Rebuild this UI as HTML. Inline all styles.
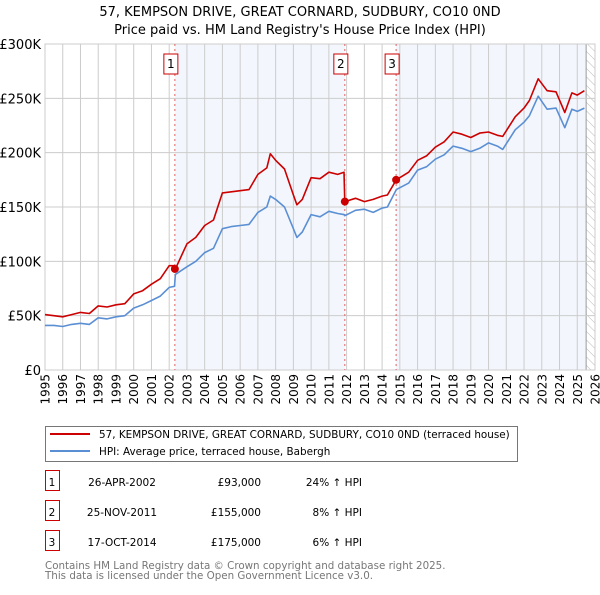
<!DOCTYPE html>
<html><head><meta charset="utf-8"><style>
body{margin:0;background:#fff;font-family:"Liberation Sans","DejaVu Sans",sans-serif;}
svg text{font-family:"DejaVu Sans","Liberation Sans",sans-serif;}
</style></head><body>
<svg id="c" width="600" height="590" xmlns="http://www.w3.org/2000/svg">
<defs><pattern id="hatch" width="6" height="6" patternUnits="userSpaceOnUse" patternTransform="rotate(-45)"><line x1="0" y1="0" x2="0" y2="6" stroke="#bbb" stroke-width="1"/></pattern></defs>
<text x="300" y="16" text-anchor="middle" font-size="13" fill="#000">57, KEMPSON DRIVE, GREAT CORNARD, SUDBURY, CO10 0ND</text>
<text x="300" y="34" text-anchor="middle" font-size="13" fill="#000">Price paid vs. HM Land Registry's House Price Index (HPI)</text>
<g id="plot"></g>
<g>
<rect x="45.5" y="426.5" width="472" height="35" fill="#fff" stroke="#777"/>
<line x1="50" y1="434" x2="90" y2="434" stroke="#cc0000" stroke-width="2"/>
<text x="99" y="438" font-size="10.4">57, KEMPSON DRIVE, GREAT CORNARD, SUDBURY, CO10 0ND (terraced house)</text>
<line x1="50" y1="451" x2="90" y2="451" stroke="#5b8fd4" stroke-width="2"/>
<text x="99" y="455" font-size="10.4">HPI: Average price, terraced house, Babergh</text>
</g>
<g id="tbl" font-size="10.5"></g>
<text x="45" y="569" font-size="10.3" fill="#777">Contains HM Land Registry data © Crown copyright and database right 2025.</text>
<text x="45" y="579" font-size="10.3" fill="#777">This data is licensed under the Open Government Licence v3.0.</text>
</svg>
<script>
const years=[1995,1995.5,1996,1996.5,1997,1997.5,1998,1998.5,1999,1999.5,2000,2000.5,2001,2001.5,2002,2002.3,2002.35,2003,2003.5,2004,2004.5,2005,2005.5,2006,2006.5,2007,2007.5,2007.7,2008,2008.5,2009,2009.2,2009.5,2010,2010.5,2011,2011.5,2011.85,2011.9,2012.5,2013,2013.5,2014,2014.3,2014.8,2015.5,2016,2016.5,2017,2017.5,2018,2018.5,2019,2019.5,2020,2020.5,2020.8,2021.5,2022,2022.3,2022.8,2023.3,2023.8,2024.3,2024.7,2025,2025.4];
const hpi=[41,41,40,42,43,42,48,47,49,50,57,60,64,68,76,77,88,95,100,108,112,130,132,133,134,145,150,160,157,150,130,122,127,143,141,146,144,143,142,147,148,145,149,150,166,172,184,187,194,198,206,204,201,204,209,206,203,221,228,234,252,240,241,223,240,238,241];
const red=[51,50,49,51,53,52,59,58,60,61,70,73,79,84,96,96,93,116,122,133,138,163,164,165,166,180,186,199,193,185,161,152,157,177,176,182,180,182,155,158,155,157,160,161,175,182,193,197,205,210,219,217,214,218,219,216,215,233,241,248,268,257,256,237,255,253,257];
const yTicks=[0,50,100,150,200,250,300];
const xYears=[1995,1996,1997,1998,1999,2000,2001,2002,2003,2004,2005,2006,2007,2008,2009,2010,2011,2012,2013,2014,2015,2016,2017,2018,2019,2020,2021,2022,2023,2024,2025,2026];
const saleYears=[2002.32,2011.9,2014.79];
const salePrices=[93,155,175];
const saleLabels=["1","2","3"];
const saleDates=["26-APR-2002","25-NOV-2011","17-OCT-2014"];
const salePriceText=["£93,000","£155,000","£175,000"];
const saleHpi=["24% ↑ HPI","8% ↑ HPI","6% ↑ HPI"];

const NS="http://www.w3.org/2000/svg";
const X0=45,X1=595,Y0=370,Y1=44;
const sx=y=>X0+(y-1995)/(2026-1995)*(X1-X0);
const sy=v=>Y0-v/300*(Y0-Y1);
const plot=document.getElementById('plot');
function mk(tag,attrs,parent){const e=document.createElementNS(NS,tag);for(const k in attrs)e.setAttribute(k,attrs[k]);(parent||plot).appendChild(e);return e;}
let s1=mk('rect',{x:sx(saleYears[0]),y:Y1,width:sx(saleYears[1])-sx(saleYears[0]),height:Y0-Y1,fill:'#eef3fc',opacity:0.7});


let s3=mk('rect',{x:sx(saleYears[2]),y:Y1,width:sx(2025.5)-sx(saleYears[2]),height:Y0-Y1,fill:'#eef3fc',opacity:0.7});


let h=mk('rect',{x:sx(2025.5),y:Y1,width:X1-sx(2025.5),height:Y0-Y1,fill:'url(#hatch)'});


mk('line',{x1:sx(2025.5),y1:Y1,x2:sx(2025.5),y2:Y0,stroke:'#999'});
yTicks.forEach(v=>{
 let l=mk('line',{x1:X0,x2:X1,y1:sy(v),y2:sy(v),stroke:'#ccc'});
 
 
 let t=mk('text',{x:X0-4,y:sy(v)+5,'text-anchor':'end','font-size':13});
 
 
 t.textContent=v===0?'£0':'£'+v+'K';
});
xYears.forEach(yr=>{
 let l=mk('line',{x1:sx(yr),x2:sx(yr),y1:Y1,y2:Y0,stroke:'#ccc'});
 
 
 let t=mk('text',{x:0,y:0,'text-anchor':'end','font-size':12,transform:`translate(${sx(yr)+4.5},${Y0+4}) rotate(-90)`});
 
 
 t.textContent=yr;
});
mk('rect',{x:X0,y:Y1,width:X1-X0,height:Y0-Y1,fill:'none',stroke:'#ccc'});
saleYears.forEach((yr,i)=>{
 let l=mk('line',{x1:sx(yr),x2:sx(yr),y1:Y1,y2:Y0,stroke:'#e06060','stroke-dasharray':'2,3'});
 
 
 let b=mk('rect',{x:sx(yr)-7-4,y:54,width:14,height:20,fill:'#fff',stroke:'#cc0000'});
 
 
 let t=mk('text',{x:sx(yr)-4,y:68,'text-anchor':'middle','font-size':12});
 
 
 t.textContent=saleLabels[i];
});
function path(vals,col,name){
 const d=vals.map((v,i)=>(i?'L':'M')+sx(years[i]).toFixed(1)+','+sy(v).toFixed(1)).join(' ');
 const p=mk('path',{d:d,fill:'none',stroke:col,'stroke-width':1.6,'stroke-linejoin':'round'});
 
 
}
path(hpi,'#5b8fd4','hpi-line');
path(red,'#cc0000','price-paid-line');
saleYears.forEach((yr,i)=>{
 const c=mk('circle',{cx:sx(yr),cy:sy(salePrices[i]),r:4,fill:'#cc0000'});
 
 
});
const tbl=document.getElementById('tbl');
saleLabels.forEach((lab,i)=>{
 const y=483+i*30;
 let b=mk('rect',{x:45.5,y:y-12.5,width:14,height:20,fill:'none',stroke:'#cc0000'},tbl);
 
 
 let t=mk('text',{x:52,y:y+3,'text-anchor':'middle'},tbl);
 
 
 t.textContent=lab;
 let d=mk('text',{x:122,y:y+3,'text-anchor':'middle'},tbl);
 
 
 d.textContent=saleDates[i];
 let p=mk('text',{x:261,y:y+3,'text-anchor':'end'},tbl);
 
 
 p.textContent=salePriceText[i];
 let hh=mk('text',{x:362,y:y+3,'text-anchor':'end'},tbl);
 
 
 hh.textContent=saleHpi[i];
});
</script>
</body></html>
